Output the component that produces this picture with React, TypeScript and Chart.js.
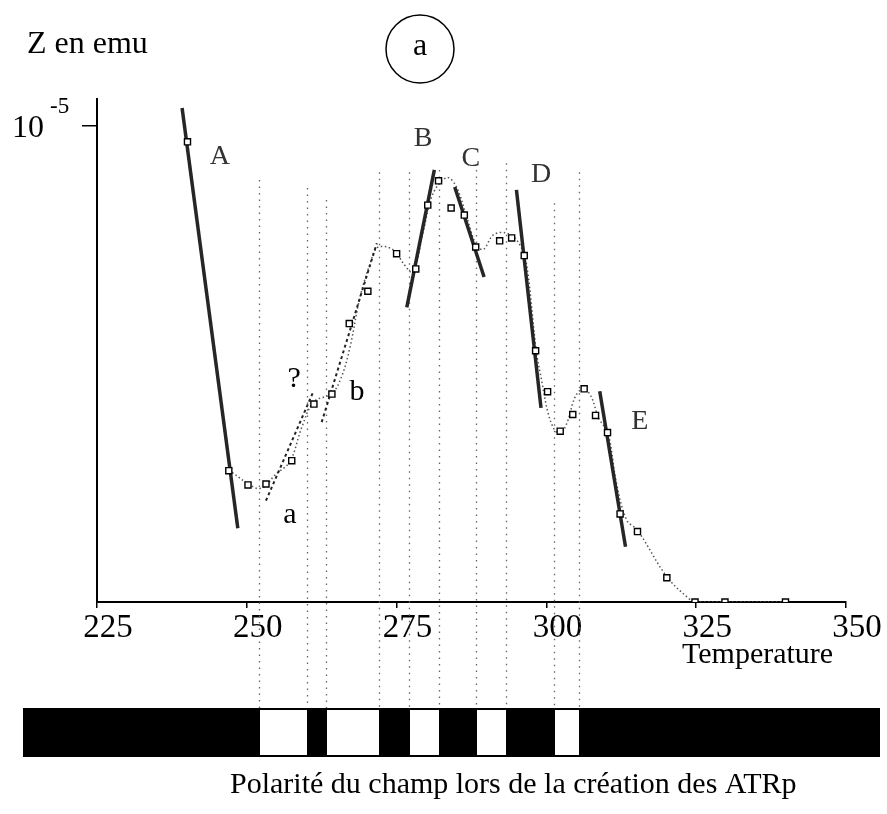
import React, { useEffect, useRef } from "react";
import { Chart, registerables } from "chart.js";

Chart.register(...registerables);

// ---- measured data (temperature in °C, Z in units of 1e-5 emu) ----
const temperatures = [240.1, 247.0, 250.2, 253.2, 257.5, 261.2, 264.2, 267.1, 270.2, 275.0, 278.2, 280.2, 282.0, 284.1, 286.3, 288.2, 292.2, 294.2, 296.3, 298.2, 300.2, 302.3, 304.4, 306.3, 308.2, 310.2, 312.3, 315.2, 320.1, 324.8, 329.8, 339.9];
const zValues = [0.967, 0.276, 0.246, 0.248, 0.297, 0.416, 0.437, 0.585, 0.653, 0.732, 0.700, 0.834, 0.885, 0.828, 0.813, 0.746, 0.759, 0.765, 0.728, 0.528, 0.442, 0.359, 0.394, 0.448, 0.392, 0.356, 0.185, 0.148, 0.051, 0, 0, 0];

// smoothed dotted curve
const curveT = [247.0, 251.6, 253.1, 254.7, 257.2, 259.2, 261.2, 264.2, 265.8, 267.2, 268.9, 270.6, 271.7, 273.4, 274.9, 276.1, 277.7, 279.5, 281.1, 283.4, 285.0, 286.7, 288.3, 289.5, 291.1, 293.1, 295.0, 296.3, 297.0, 298.3, 299.2, 300.3, 301.4, 302.3, 303.4, 304.8, 306.2, 307.5, 308.7, 310.3, 311.7, 313.4, 315.2, 320.1, 323.7, 324.8, 339.8];
const curveZ = [0.277, 0.239, 0.244, 0.267, 0.295, 0.368, 0.421, 0.438, 0.473, 0.534, 0.641, 0.712, 0.744, 0.746, 0.735, 0.712, 0.693, 0.782, 0.859, 0.892, 0.872, 0.809, 0.750, 0.741, 0.771, 0.776, 0.761, 0.729, 0.683, 0.529, 0.466, 0.396, 0.361, 0.354, 0.375, 0.431, 0.449, 0.431, 0.387, 0.354, 0.249, 0.172, 0.151, 0.053, 0.008, 0.0, 0.0];

// thick tangent segments A..E
const tangentNames = ["A", "B", "C", "D", "E"];
const tangentStartT = [239.2, 276.7, 284.7, 295.0, 308.9];
const tangentStartZ = [1.038, 0.619, 0.872, 0.866, 0.443];
const tangentEndT = [248.5, 281.3, 289.6, 299.1, 313.2];
const tangentEndZ = [0.155, 0.908, 0.683, 0.408, 0.116];

// dashed segments a, b
const dashedNames = ["a", "b"];
const dashedStartT = [253.2, 262.5];
const dashedStartZ = [0.213, 0.378];
const dashedEndT = [261.1, 271.7];
const dashedEndZ = [0.442, 0.754];

// annotation labels
const labelTexts = ["A", "B", "C", "D", "E", "?", "a", "b"];
const labelT = [245.5, 279.4, 287.4, 299.1, 315.6, 257.9, 257.2, 268.4];
const labelZ = [0.935, 0.973, 0.931, 0.897, 0.378, 0.468, 0.183, 0.441];

// reversed-polarity intervals (white boxes) and the top of their guide lines
const reversalStart = [252.1, 263.2, 277.1, 288.3, 301.2];
const reversalEnd = [260.1, 272.1, 282.0, 293.3, 305.4];
const startGuideTopZ = [0.887, 0.845, 0.903, 0.908, 0.838];
const endGuideTopZ = [0.870, 0.903, 0.908, 0.922, 0.903];

const xTicks = [225, 250, 275, 300, 325, 350];
const yTickValue = 1;

const SERIF = '"Liberation Serif", "Times New Roman", serif';

export default function App() {
  const ref = useRef<HTMLCanvasElement | null>(null);

  useEffect(() => {
    if (!ref.current) return;

    const BAR_TOP = 708;
    const BAR_BOTTOM = 757;
    const BAR_LEFT = 23;
    const BAR_RIGHT = 880;

    const overlay = {
      id: "overlay",
      beforeDatasetsDraw(chart: any) {
        const { ctx, scales } = chart;
        const x = scales.x, y = scales.y;
        ctx.save();
        ctx.strokeStyle = "#666";
        ctx.lineWidth = 1.3;
        ctx.setLineDash([1.5, 5]);
        const guides: [number, number][] = [];
        reversalStart.forEach((t, i) => guides.push([t, startGuideTopZ[i]]));
        reversalEnd.forEach((t, i) => guides.push([t, endGuideTopZ[i]]));
        guides.forEach(([t, top]) => {
          const px = Math.round(x.getPixelForValue(t)) + 0.5;
          ctx.beginPath();
          ctx.moveTo(px, y.getPixelForValue(top));
          ctx.lineTo(px, BAR_TOP);
          ctx.stroke();
        });
        ctx.restore();
      },
      afterDraw(chart: any) {
        const { ctx, scales } = chart;
        const x = scales.x, y = scales.y;
        ctx.save();
        ctx.fillStyle = "#000";
        ctx.textBaseline = "alphabetic";
        ctx.textAlign = "left";
        // y axis title
        ctx.font = `32px ${SERIF}`;
        ctx.fillText("Z en emu", 27, 53);
        // y tick label 10^-5
        const ty = y.getPixelForValue(yTickValue);
        ctx.font = `32px ${SERIF}`;
        ctx.fillText("10", 12, ty + 11);
        ctx.font = `23px ${SERIF}`;
        ctx.fillText("-5", 50, ty - 13);
        // circled a
        ctx.lineWidth = 1.5;
        ctx.strokeStyle = "#000";
        ctx.beginPath();
        ctx.arc(420, 49, 34, 0, Math.PI * 2);
        ctx.stroke();
        ctx.textAlign = "center";
        ctx.textBaseline = "middle";
        ctx.font = `32px ${SERIF}`;
        ctx.fillText("a", 420, 47);
        // annotation letters
        labelTexts.forEach((txt, i) => {
          const isUpper = /[A-E]/.test(txt);
          ctx.font = `${isUpper ? 28 : 30}px ${SERIF}`;
          ctx.fillStyle = isUpper ? "#333" : "#000";
          ctx.fillText(txt, x.getPixelForValue(labelT[i]), y.getPixelForValue(labelZ[i]));
        });
        // x axis title
        ctx.fillStyle = "#000";
        ctx.textAlign = "left";
        ctx.textBaseline = "alphabetic";
        ctx.font = `30px ${SERIF}`;
        ctx.fillText("Temperature", 682, 663);
        // polarity bar
        ctx.fillStyle = "#000";
        ctx.fillRect(BAR_LEFT, BAR_TOP, BAR_RIGHT - BAR_LEFT, BAR_BOTTOM - BAR_TOP);
        ctx.fillStyle = "#fff";
        reversalStart.forEach((t, i) => {
          const x0 = Math.round(x.getPixelForValue(t)) + 1;
          const x1 = Math.round(x.getPixelForValue(reversalEnd[i]));
          ctx.fillRect(x0, BAR_TOP + 2, x1 - x0, BAR_BOTTOM - BAR_TOP - 4);
        });
        // caption
        ctx.fillStyle = "#000";
        ctx.font = `30px ${SERIF}`;
        ctx.fillText("Polarité du champ lors de la création des ATRp", 230, 793);
        ctx.restore();
      },
    };

    const pts = (ts: number[], zs: number[]) => ts.map((t, i) => ({ x: t, y: zs[i] }));

    const datasets: any[] = [
      {
        label: "mesures",
        data: pts(temperatures, zValues),
        showLine: false,
        pointStyle: "rect",
        pointRadius: 4.3,
        pointBorderWidth: 1.4,
        pointBorderColor: "#000",
        pointBackgroundColor: "#fff",
      },
    ];
    tangentNames.forEach((n, i) => {
      datasets.push({
        label: "tangente " + n,
        data: pts([tangentStartT[i], tangentEndT[i]], [tangentStartZ[i], tangentEndZ[i]]),
        borderColor: "#262626",
        borderWidth: 3.5,
        pointRadius: 0,
        tension: 0,
      });
    });
    dashedNames.forEach((n, i) => {
      datasets.push({
        label: "tirets " + n,
        data: pts([dashedStartT[i], dashedEndT[i]], [dashedStartZ[i], dashedEndZ[i]]),
        borderColor: "#222",
        borderWidth: 2,
        borderDash: [3, 3],
        pointRadius: 0,
        tension: 0,
      });
    });
    datasets.push({
      label: "courbe",
      data: pts(curveT, curveZ),
      borderColor: "#555",
      borderWidth: 1.5,
      borderDash: [1.5, 2.5],
      pointRadius: 0,
      tension: 0.35,
    });

    const chart = new Chart(ref.current, {
      type: "line",
      data: { datasets },
      options: {
        responsive: false,
        animation: false,
        events: [],
        layout: { padding: { left: 77, right: 41, top: 99, bottom: 162 } },
        plugins: { legend: { display: false }, tooltip: { enabled: false }, title: { display: false } },
        scales: {
          x: {
            type: "linear",
            min: 225,
            max: 350,
            afterBuildTicks: (s: any) => {
              s.ticks = xTicks.map((v) => ({ value: v }));
            },
            afterFit: (s: any) => {
              s.height = 50;
            },
            ticks: {
              font: { family: SERIF, size: 33 },
              color: "#000",
              padding: 1,
              labelOffset: 11,
              maxRotation: 0,
              autoSkip: false,
            },
            grid: { drawOnChartArea: false, drawTicks: true, tickLength: 6, color: "#000", lineWidth: 1.5 },
            border: { display: true, color: "#000", width: 2 },
          },
          y: {
            type: "linear",
            min: 0,
            max: 1.057,
            afterBuildTicks: (s: any) => {
              s.ticks = [{ value: yTickValue }];
            },
            afterFit: (s: any) => {
              s.width = 20;
            },
            ticks: { display: false },
            grid: { drawOnChartArea: false, drawTicks: true, tickLength: 15, color: "#000", lineWidth: 1.5 },
            border: { display: true, color: "#000", width: 2 },
          },
        },
      },
      plugins: [overlay],
    } as any);

    return () => chart.destroy();
  }, []);

  return (
    <div style={{ position: "fixed", left: 0, top: 0, width: 887, height: 814, background: "#fff" }}>
      <canvas ref={ref} width={887} height={814} style={{ display: "block", width: 887, height: 814 }} />
    </div>
  );
}
